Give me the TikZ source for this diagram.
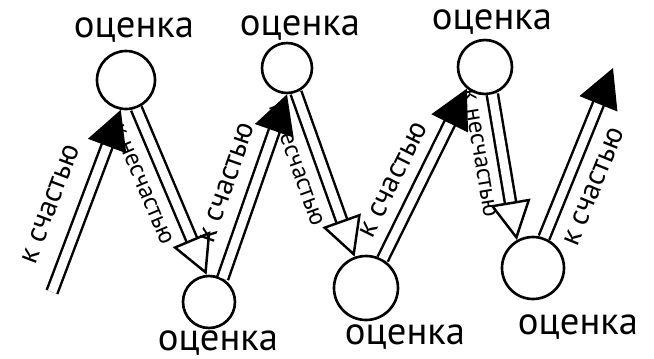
\documentclass[tikz,border=0pt]{standalone}
\usepackage{fontspec}
\setmainfont{PT Sans}
\usetikzlibrary{arrows.meta}

\begin{document}
\begin{tikzpicture}[
        x=0.02cm, y=-0.02cm,
        every node/.style={font=\fontsize{13}{14}\selectfont},
        spot/.style={draw, circle, line width=1.5pt, inner sep=0pt},
        grade/.style={font=\fontsize{22}{24}\selectfont},
        hollow/.style={double, double distance=5pt, line width=1.4pt},
        upward/.style={hollow, -{Triangle[length=22pt, width=23pt, fill=black]}},
        downward/.style={hollow, -{Triangle[open, length=22pt, width=23pt]}},
        luck/.style={sloped, font=\fontsize{17}{18}\selectfont},
        bad/.style={sloped, font=\fontsize{14}{15}\selectfont}
      ]
      \useasboundingbox (0,0) rectangle (654,359);

      % circles
      \node[spot, minimum size=1.16cm] (t1) at (126,80) {};
      \node[spot, minimum size=1.00cm] (t2) at (287,68) {};
      \node[spot, minimum size=1.08cm] (t3) at (485,67) {};
      \node[spot, minimum size=1.04cm] (b1) at (209,302) {};
      \node[spot, minimum size=1.28cm] (b2) at (366,288) {};
      \node[spot, minimum size=1.24cm] (b3) at (533,268) {};

      % labels
      \node[grade] (g1) at (134,30) {оценка};
      \node[grade] (g2) at (300,28) {оценка};
      \node[grade] (g3) at (492,22) {оценка};
      \node[grade] (g4) at (218,343) {оценка};
      \node[grade] (g5) at (405,337) {оценка};
      \node[grade] (g6) at (578,327) {оценка};

      \coordinate (start) at (52,292);
      \coordinate (finish) at (613,68);

      % arrows
      \draw[upward] (start) -- node[luck, above=10pt, pos=0.42] {к счастью} (t1.260);
      \draw[downward] (t1.290) -- node[bad, below=6pt, pos=0.40] {к несчастью} (b1.95);
      \draw[upward] (b1.60) -- node[luck, above=7pt, pos=0.47] {к счастью} (t2.270);
      \draw[downward] (t2.290) -- node[bad, below=6pt, pos=0.39] {к несчастью} (b2.110);
      \draw[upward] (b2.60) -- node[luck, above=6pt, pos=0.40] {к счастью} (t3.230);
      \draw[downward] (t3.285) -- node[bad, below=5pt, pos=0.38] {к несчастью} (b3.120);
      \draw[upward] (b3.70) -- node[luck, below=7pt, pos=0.36] {к счастью} (finish);
    \end{tikzpicture}
\end{document}
